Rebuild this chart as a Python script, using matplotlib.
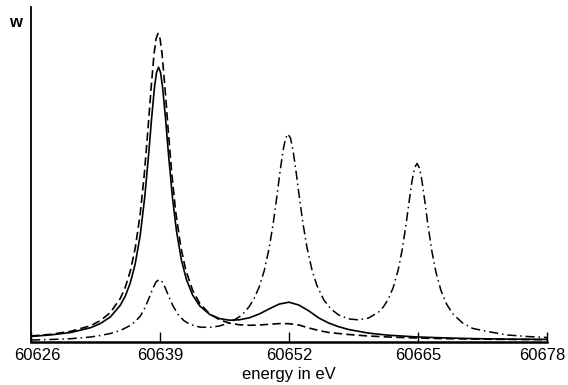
import matplotlib.pyplot as plt
from matplotlib.transforms import ScaledTranslation

# energies (eV) and intensities w (arbitrary units)
dashed_e = [60626, 60628, 60630, 60632, 60633, 60634, 60635, 60635.5, 60636, 60636.5,
            60637, 60637.4, 60637.8, 60638.1, 60638.4, 60638.6, 60638.8, 60639.0, 60639.2,
            60639.5, 60639.8, 60640.2, 60640.6, 60641.1, 60641.6, 60642.3, 60643, 60644,
            60645, 60646, 60647, 60648, 60649, 60650, 60651, 60652, 60653, 60654, 60655,
            60656, 60658, 60660, 60662, 60665, 60668, 60671, 60674, 60678]
dashed_w = [6.0, 7.7, 10.7, 16.3, 21.4, 29.5, 43.6, 54.8, 70.7, 93.8,
            127.9, 166.0, 214.5, 253.8, 288.3, 303.3, 308.6, 303.6, 288.6,
            254.3, 215.0, 166.7, 128.6, 94.7, 71.8, 51.3, 38.7, 28.1,
            22.2, 18.9, 17.2, 16.7, 17.0, 17.7, 18.4, 18.3, 17.0, 14.0, 11.5,
            9.5, 7.5, 6.0, 5.0, 3.9, 3.3, 2.9, 2.6, 2.3]

solid_e = [60626, 60628, 60630, 60632, 60633, 60634, 60635, 60635.5, 60636, 60636.5,
           60637, 60637.45, 60637.85, 60638.15, 60638.45, 60638.65, 60638.85, 60639.05,
           60639.25, 60639.55, 60639.85, 60640.25, 60640.65, 60641.15, 60641.65, 60642.3,
           60643, 60644, 60645, 60646, 60647, 60648, 60649, 60650, 60651, 60652, 60653,
           60654, 60655, 60656, 60657, 60658, 60660, 60662, 60665, 60668, 60671, 60674,
           60678]
solid_w = [5.6, 7.1, 9.5, 14.3, 18.5, 25.1, 36.8, 45.9, 59.0, 78.1,
           106.6, 143.9, 187.3, 223.4, 255.5, 269.6, 274.8, 269.7,
           255.6, 224.1, 188.1, 145.0, 111.5, 82.2, 62.8, 46.6,
           36.1, 27.6, 23.4, 21.8, 22.2, 24.2, 28.0, 33.1, 37.9, 39.8, 36.9,
           31.1, 24.0, 19.0, 15.3, 12.5, 8.9, 6.8, 5.0, 4.0, 3.3, 2.9,
           2.6]

dashdot_e = [60626, 60628, 60630, 60632, 60633, 60634, 60635, 60636, 60636.5, 60637,
             60637.5, 60638, 60638.3, 60638.6, 60638.9, 60639.2, 60639.5, 60639.8, 60640.3,
             60640.8, 60641.4, 60642, 60643, 60644, 60645, 60646, 60647, 60647.5, 60648,
             60648.5, 60649, 60649.5, 60650, 60650.4, 60650.8, 60651.1, 60651.4, 60651.65,
             60651.9, 60652.15, 60652.4, 60652.7, 60653, 60653.4, 60653.8, 60654.3, 60654.8,
             60655.5, 60656.2, 60657, 60658, 60659, 60660, 60661, 60661.5, 60662, 60662.5,
             60663, 60663.4, 60663.8, 60664.1, 60664.4, 60664.65, 60664.9, 60665.15,
             60665.4, 60665.7, 60666, 60666.4, 60666.8, 60667.3, 60667.9, 60668.5, 60669.5,
             60670.5, 60672, 60674, 60676, 60678]
dashdot_w = [2.0, 2.5, 3.3, 5.0, 6.5, 8.5, 11.5, 16.5, 20.5, 25.6,
             34.6, 46.6, 54.1, 60.1, 62.5, 60.4, 54.8, 47.5, 36.2,
             27.8, 21.4, 17.7, 14.9, 14.6, 16.0, 19.3, 25.2, 29.6, 35.6,
             43.9, 55.2, 71.3, 94.0, 118.2, 147.4, 170.7, 191.7, 203.7,
             208.1, 203.8, 191.9, 171.1, 147.9, 118.9, 95.0, 72.6, 56.8,
             42.2, 33.2, 27.0, 23.1, 22.1, 23.9, 29.7, 35.0, 42.8, 54.5,
             72.1, 92.1, 118.1, 140.4, 161.4, 174.1, 178.6, 173.9,
             160.9, 139.6, 116.9, 90.5, 70.0, 51.8, 37.5, 28.2, 18.9,
             13.6, 10.5, 7.0, 5.5, 4.5]

xticks = [60626, 60639, 60652, 60665, 60678]

plt.rcParams["font.family"] = ["Liberation Sans", "DejaVu Sans"]

fig = plt.figure(figsize=(5.68, 3.85), dpi=100)
ax = fig.add_axes([0.0546, 0.1117, 0.9085, 0.870])

ax.plot(dashed_e, dashed_w, color="black", lw=1.2, linestyle=(0, (5, 2.5)))
ax.plot(solid_e, solid_w, color="black", lw=1.2)
ax.plot(dashdot_e, dashdot_w, color="black", lw=1.1, linestyle=(0, (6, 2.5, 1, 2.5)))

ax.set_xlim(60626, 60678)
ax.set_ylim(0, 335)
ax.spines["top"].set_visible(False)
ax.spines["right"].set_visible(False)
ax.spines["left"].set_linewidth(1.3)
ax.spines["bottom"].set_linewidth(1.8)
ax.set_yticks([])
ax.set_xticks(xticks)
ax.set_xticklabels([str(t) for t in xticks], fontsize=12)
ax.tick_params(axis="x", direction="in", length=7, width=1.0, pad=4)
ax.set_xlabel("energy in eV", fontsize=12, labelpad=3)

# end labels sit slightly inside the axis ends in the original
labels = ax.get_xticklabels()
labels[0].set_transform(labels[0].get_transform() + ScaledTranslation(6 / 100, 0, fig.dpi_scale_trans))
labels[-1].set_transform(labels[-1].get_transform() + ScaledTranslation(-5 / 100, 0, fig.dpi_scale_trans))

fig.text(0.027, 0.942, "w", fontsize=12, weight="bold", ha="center", va="center")

fig.savefig("out.png", dpi=100, facecolor="white")
plt.close(fig)
